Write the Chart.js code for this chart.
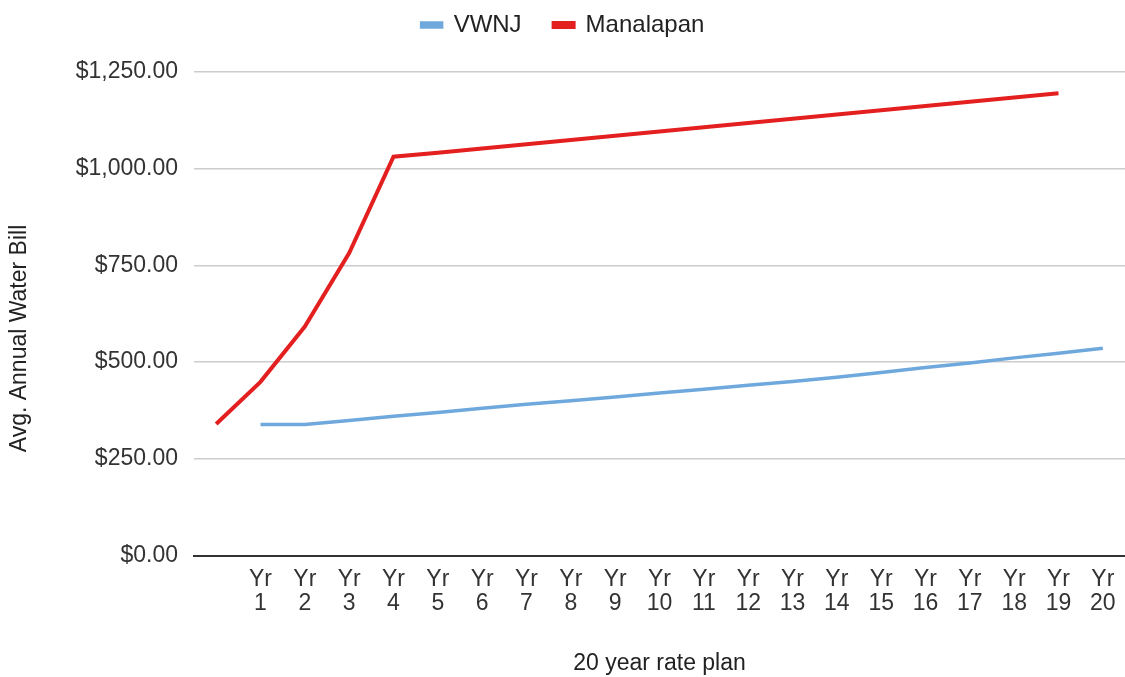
<!DOCTYPE html>
<html>
<head>
<meta charset="utf-8">
<script src="https://cdn.jsdelivr.net/npm/chart.js@4/dist/chart.umd.min.js"></script>
<style>
  html, body { margin: 0; padding: 0; background: #fff; }
  #wrap { width: 1125px; height: 677px; }
</style>
</head>
<body>
<div id="wrap"><canvas id="c" width="1125" height="677"></canvas></div>
<script>
// Categories (first one is blank)
const categories = [
  [''], ['Yr','1'], ['Yr','2'], ['Yr','3'], ['Yr','4'], ['Yr','5'], ['Yr','6'], ['Yr','7'],
  ['Yr','8'], ['Yr','9'], ['Yr','10'], ['Yr','11'], ['Yr','12'], ['Yr','13'], ['Yr','14'],
  ['Yr','15'], ['Yr','16'], ['Yr','17'], ['Yr','18'], ['Yr','19'], ['Yr','20']
];
const vwnj = [null, 339, 339, 349, 360, 370, 381, 391, 400, 410, 420, 430, 440, 450, 461, 473, 486, 498, 511, 523, 536];
const manalapan = [340, 449, 592, 782, 1031, 1041, 1052, 1063, 1074, 1085, 1096, 1107, 1118, 1129, 1140, 1151, 1162, 1173, 1184, 1195, null];
const yTicks = [0, 250, 500, 750, 1000, 1250];
const seriesNames = ['VWNJ', 'Manalapan'];
const xTitle = '20 year rate plan';
const yTitle = 'Avg. Annual Water Bill';

const FONT = "'Liberation Sans', Arial, sans-serif";

const legendSpace = {
  id: 'legendSpace',
  beforeLayout(chart) {
    if (chart.legend && !chart.legend._patched) {
      const fit = chart.legend.fit;
      chart.legend.fit = function () { fit.call(this); this.height += 25; };
      chart.legend._patched = true;
    }
  }
};

const yTitlePlugin = {
  id: 'yTitlePlugin',
  afterDraw(chart) {
    const ctx = chart.ctx;
    ctx.save();
    ctx.translate(20, chart.height / 2);
    ctx.rotate(-Math.PI / 2);
    ctx.font = "23px " + FONT;
    ctx.fillStyle = '#222';
    ctx.textAlign = 'center';
    ctx.textBaseline = 'middle';
    ctx.fillText(yTitle, 0, 0);
    ctx.restore();
  }
};

new Chart(document.getElementById('c'), {
  type: 'line',
  data: {
    labels: categories,
    datasets: [
      { label: seriesNames[0], data: vwnj, borderColor: '#6fa8dc', backgroundColor: '#6fa8dc', borderWidth: 3.5, pointRadius: 0, tension: 0 },
      { label: seriesNames[1], data: manalapan, borderColor: '#e3201f', backgroundColor: '#e3201f', borderWidth: 4, pointRadius: 0, tension: 0 }
    ]
  },
  options: {
    responsive: false,
    animation: false,
    layout: { padding: { left: 0, right: -1, top: -19, bottom: 0 } },
    plugins: {
      legend: {
        position: 'top',
        labels: { boxWidth: 20, boxHeight: 4, font: { family: FONT, size: 24 }, color: '#222', padding: 32 }
      },
      tooltip: { enabled: false }
    },
    scales: {
      x: {
        offset: true,
        afterFit(scale) { scale.paddingRight = 0; scale.paddingLeft = 0; },
        grid: { display: false, drawTicks: false },
        border: { display: true, color: '#333', width: 2 },
        ticks: { autoSkip: false, maxRotation: 0, minRotation: 0, padding: 12, color: '#333',
                 font: { family: FONT, size: 23, lineHeight: 1.04 } },
        title: { display: true, text: xTitle, color: '#222', font: { family: FONT, size: 23 }, padding: { top: 22, bottom: 0 } }
      },
      y: {
        min: 0, max: 1250,
        afterBuildTicks(scale) { scale.ticks = yTicks.map(v => ({ value: v })); },
        afterFit(scale) { scale.width = 194; },
        grid: { color: '#cccccc', lineWidth: 1.5, drawTicks: false },
        border: { display: false },
        ticks: { padding: 16, color: '#333', font: { family: FONT, size: 23 },
                 callback: v => '$' + Number(v).toLocaleString('en-US', { minimumFractionDigits: 2, maximumFractionDigits: 2 }) },
        title: { display: false }
      }
    }
  },
  plugins: [legendSpace, yTitlePlugin]
});
</script>
</body>
</html>
